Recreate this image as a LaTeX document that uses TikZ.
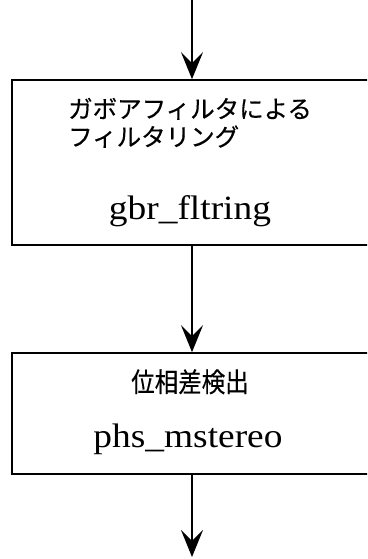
\documentclass[tikz,border=0pt]{standalone}
\usepackage{fontspec}
\setmainfont{Liberation Serif}
\newfontfamily\jpfont[FakeBold=0.35]{Noto Sans CJK JP}
\usetikzlibrary{arrows.meta}
\begin{document}
\begin{tikzpicture}[x=1pt,y=1pt,
  box/.style={draw, line width=1.8pt, minimum width=380pt, anchor=south west, inner sep=0pt},
  arr/.style={line width=1.4pt, -{Stealth[length=27pt,width=22pt,inset=11pt]}},
  jptext/.style={font=\jpfont\fontsize{24.5}{28}\selectfont, inner sep=0pt},
  code/.style={font=\fontsize{34}{40}\selectfont, inner sep=0pt, anchor=base}]
\clip (0,0) rectangle (367,559);
\node[box, minimum height=165pt] (b1) at (11,313) {};
\node[box, minimum height=121pt] (b2) at (11,84) {};
\coordinate (in) at (192,562);
\coordinate (out) at (192,2);
\node[jptext, anchor=base west] (t1a) at (68,441) {ガボアフィルタによる};
\node[jptext, anchor=base west] (t1b) at (68,413) {フィルタリング};
\node[code] (c1) at (190,339) {\scalebox{1.1}[1]{gbr\_fltring}};
\node[jptext, anchor=base, font=\jpfont\fontsize{23.5}{28}\selectfont] (t2) at (190,167) {\scalebox{1}[1.15]{位相差検出}};
\node[code] (c2) at (188,111) {\scalebox{1.1}[1]{phs\_mstereo}};
\draw[arr] (in) -- (in |- b1.north);
\draw[arr] (in |- b1.south) -- (in |- b2.north);
\draw[arr] (in |- b2.south) -- (out);
\end{tikzpicture}
\end{document}
